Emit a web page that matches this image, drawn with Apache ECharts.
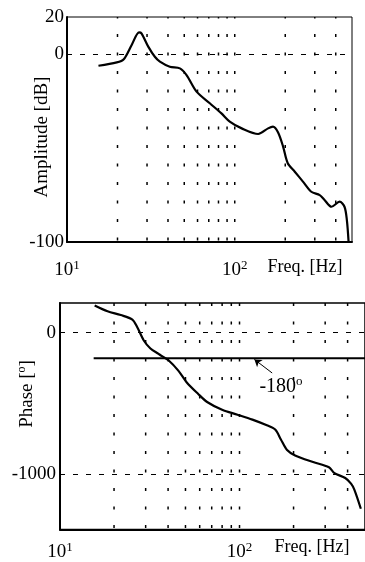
<!DOCTYPE html>
<html><head><meta charset="utf-8">
<script src="https://cdn.jsdelivr.net/npm/echarts@6/dist/echarts.min.js"></script>
<style>html,body{margin:0;padding:0;background:#fff}#c{width:365px;height:562px}</style>
</head><body><div id="c"></div>
<script>
// Amplitude response
const ampFreq = [15.4, 19.8, 21.8, 24.3, 26.9, 27.8, 30.5, 33.4, 35.8, 41.0, 47.1, 51.6, 59.2, 71, 83.3, 93.4, 110, 138, 158, 169, 181, 194, 207, 228, 255, 286, 321, 343, 377, 422, 451, 466, 477];
const ampDb   = [-6.0, -4.2, -2.5, 5.1, 11.8, 11.3, 4.2, -1.2, -3.8, -6.5, -7.4, -11, -19.8, -26, -31.4, -35.8, -39.4, -42.4, -39.4, -38.5, -41.5, -49, -58, -62.5, -67.8, -73.2, -75, -77.6, -81.2, -78.5, -81.2, -88.3, -99.8];
// Phase response
const phaseFreq = [15.6, 18.4, 21.8, 25.3, 26.9, 29.3, 31.9, 35.4, 37.0, 40.2, 45.6, 50.7, 58.7, 66, 80, 97.5, 118, 142, 158, 170, 184, 204, 257, 315, 338, 388, 418, 436, 474];
const phaseDeg  = [193, 152, 125, 93, 40, -55, -112, -150, -166, -195, -268, -350, -432, -490, -545, -580, -615, -655, -685, -755, -830, -868, -915, -952, -993, -1028, -1068, -1110, -1245];
// -180 reference line
const refFreq = [15.4, 500];
const refDeg = -180;
// annotation arrow (freq, deg)
const arrowFrom = [152, -285];
const arrowTo = [121, -189];
// grid / ticks
const gridFreqs = [20, 30, 40, 50, 60, 70, 80, 90, 100, 200, 300, 400];
const ampTicks = [20, 0, -100];
const phaseTicks = [0, -1000];
const xTicks = [10, 100];
const ampRange = [-100, 20];
const phaseRange = [-1392, 210];
const freqRange = [10, 500];

const font = 'Liberation Serif';
const chart = echarts.init(document.getElementById('c'), null, {renderer: 'canvas'});

function xAxisCfg(gi) {
  return {
    type: 'log', logBase: 10, gridIndex: gi, min: freqRange[0], max: freqRange[1],
    splitLine: {show: false}, axisTick: {show: false},
    axisLine: {show: true, onZero: false, lineStyle: {color: '#000', width: 2}},
    axisLabel: {
      customValues: xTicks, color: '#000', margin: gi === 0 ? 17 : 12,
      formatter: v => '{b|10}{s|' + Math.round(Math.log10(v)) + '}',
      rich: {
        b: {fontFamily: font, fontSize: 19, color: '#000', lineHeight: 22},
        s: {fontFamily: font, fontSize: 13, color: '#000', verticalAlign: 'top', lineHeight: 13}
      }
    }
  };
}
function yAxisCfg(gi, range, ticks, margin) {
  return {
    type: 'value', gridIndex: gi, min: range[0], max: range[1],
    splitLine: {show: false}, axisTick: {show: false},
    axisLine: {show: true, onZero: false, lineStyle: {color: '#000', width: 2}},
    axisLabel: {customValues: ticks, fontFamily: font, fontSize: 19, color: '#000', margin: margin,
      showMinLabel: true, showMaxLabel: true, formatter: v => String(v)}
  };
}
function gridSeries(gi, range, offset) {
  return gridFreqs.map(f => ({
    type: 'line', xAxisIndex: gi, yAxisIndex: gi, data: [[f, range[0]], [f, range[1]]],
    symbol: 'none', silent: true, animation: false, z: 1,
    lineStyle: {color: '#000', width: 1.5, type: [3, 15.5], dashOffset: offset}
  }));
}
const hDash = {color: '#000', width: 1, type: [5, 8]};

const option = {
  backgroundColor: '#fff',
  animation: false,
  grid: [
    {left: 67, right: 13, top: 17, height: 225, show: true, borderColor: '#000', borderWidth: 1},
    {left: 60, right: -4, top: 303, height: 229, show: true, borderColor: '#000', borderWidth: 1.5}
  ],
  xAxis: [xAxisCfg(0), xAxisCfg(1)],
  yAxis: [yAxisCfg(0, ampRange, ampTicks, 3), yAxisCfg(1, phaseRange, phaseTicks, 4)],
  series: [
    ...gridSeries(0, ampRange, -1.5),
    ...gridSeries(1, phaseRange, -1.5),
    {
      type: 'line', xAxisIndex: 0, yAxisIndex: 0, symbol: 'none', smooth: 0.3,
      data: ampFreq.map((f, i) => [f, ampDb[i]]),
      lineStyle: {color: '#000', width: 2.2}, z: 5,
      markLine: {silent: true, symbol: ['none', 'none'], label: {show: false}, lineStyle: hDash, data: [{yAxis: 0}]}
    },
    {
      type: 'line', xAxisIndex: 1, yAxisIndex: 1, symbol: 'none', smooth: 0.3,
      data: phaseFreq.map((f, i) => [f, phaseDeg[i]]),
      lineStyle: {color: '#000', width: 2.2}, z: 5,
      markLine: {silent: true, symbol: ['none', 'none'], label: {show: false}, lineStyle: hDash, data: [{yAxis: 0}, {yAxis: -1000}]}
    },
    {
      type: 'line', xAxisIndex: 1, yAxisIndex: 1, symbol: 'none',
      data: refFreq.map(f => [f, refDeg]),
      lineStyle: {color: '#000', width: 2}, z: 4,
      markLine: {
        silent: true, symbol: ['none', 'arrow'], symbolSize: 7, label: {show: false},
        lineStyle: {color: '#000', width: 1, type: 'solid'},
        data: [[{coord: arrowFrom}, {coord: arrowTo}]]
      }
    }
  ],
  graphic: [
    {type: 'text', x: 42, y: 137, rotation: Math.PI / 2,
     style: {text: 'Amplitude [dB]', fontFamily: font, fontSize: 19, fill: '#000', align: 'center', verticalAlign: 'middle'}},
    {type: 'text', x: 27, y: 394, rotation: Math.PI / 2,
     style: {text: '{n|Phase [}{s|o}{n|]}', align: 'center', verticalAlign: 'middle',
       rich: {n: {fontFamily: font, fontSize: 19, fill: '#000', lineHeight: 22}, s: {fontFamily: font, fontSize: 12, fill: '#000', verticalAlign: 'top', lineHeight: 12}}}},
    {type: 'text', x: 305, y: 267,
     style: {text: 'Freq. [Hz]', fontFamily: font, fontSize: 18, fill: '#000', align: 'center', verticalAlign: 'middle'}},
    {type: 'text', x: 312, y: 547,
     style: {text: 'Freq. [Hz]', fontFamily: font, fontSize: 18, fill: '#000', align: 'center', verticalAlign: 'middle'}},
    {type: 'text', x: 281, y: 387,
     style: {text: '{n|-180}{s|o}', align: 'center', verticalAlign: 'middle',
       rich: {n: {fontFamily: font, fontSize: 20, fill: '#000', lineHeight: 24}, s: {fontFamily: font, fontSize: 13, fill: '#000', verticalAlign: 'top', lineHeight: 13}}}}
  ]
};
chart.setOption(option);
</script>
</body></html>
